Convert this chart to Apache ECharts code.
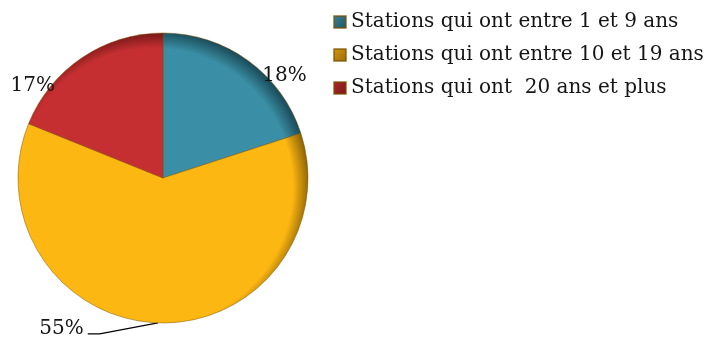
<!DOCTYPE html>
<html>
<head>
<meta charset="utf-8">
<script src="https://cdn.jsdelivr.net/npm/echarts@6/dist/echarts.min.js"></script>
<style>html,body{margin:0;padding:0;background:#fff}#c{width:705px;height:340px}</style>
</head>
<body>
<div id="c"></div>
<script>
// Age classes of the stations and their shares (%)
const categories = [
  'Stations qui ont entre 1 et 9 ans',
  'Stations qui ont entre 10 et 19 ans',
  'Stations qui ont  20 ans et plus'
];
const shares = [18, 55, 17];

const baseColors = ['#3a8fa6', '#fdb713', '#c52f31'];
const rimColors = ['#1c4e5c', '#8a6104', '#6e1515'];
const keyColors = [['#3c8194', '#1f5565'], ['#d49a12', '#9a6a06'], ['#b02a2a', '#7a1616']];

const CX = 163, CY = 178, R = 145;
const FONT = 'DejaVu Serif';

// rim shading: gradient centred slightly down-left so the upper/right rim is darker
function rimFill(i) {
  return {
    type: 'radial', x: CX - 9, y: CY + 9, r: R + 11, global: true,
    colorStops: [
      { offset: 0, color: baseColors[i] },
      { offset: 0.89, color: baseColors[i] },
      { offset: 1, color: rimColors[i] }
    ]
  };
}

const labelShift = [
  { dx: 9, dy: 15 },
  { dx: -9, dy: 0 },
  { dx: -22, dy: 28 }
];

// leader line of the large slice: slanted first segment, short horizontal tail
function layoutLabel(p) {
  const s = Object.assign({}, labelShift[p.dataIndex]);
  const pts = p.labelLinePoints;
  if (p.dataIndex === 1 && pts && pts.length === 3) {
    const end = pts[2];
    s.labelLinePoints = [pts[0], [end[0] + 2, end[1] + 5], [end[0] - 10, end[1] + 5]];
  }
  return s;
}

const chart = echarts.init(document.getElementById('c'), null, { renderer: 'canvas' });
chart.setOption({
  animation: false,
  legend: {
    orient: 'vertical',
    left: 333, top: 12, padding: 0,
    itemWidth: 12, itemHeight: 12, itemGap: 13,
    icon: 'rect',
    textStyle: { fontFamily: FONT, fontSize: 20, color: '#151515' },
    data: categories.map((name, i) => ({
      name,
      itemStyle: {
        color: { type: 'linear', x: 0, y: 0, x2: 1, y2: 1,
          colorStops: [{ offset: 0, color: keyColors[i][0] }, { offset: 1, color: keyColors[i][1] }] }
      }
    }))
  },
  series: [{
    type: 'pie',
    center: [CX, CY],
    radius: R,
    startAngle: 90,
    clockwise: true,
    avoidLabelOverlap: false,
    data: categories.map((name, i) => ({
      name,
      value: shares[i],
      itemStyle: { color: rimFill(i), borderColor: 'rgba(120,80,0,0.6)', borderWidth: 0.8 },
      label: i === 1 ? {} : { position: 'outside' },
      labelLine: i === 1 ? { show: true, length: 6, length2: 60 } : { show: false, length: 0, length2: 0 }
    })),
    label: {
      formatter: p => p.value + '%',
      fontFamily: FONT, fontSize: 20, color: '#151515'
    },
    labelLine: { lineStyle: { color: '#000', width: 1.3 } },
    labelLayout: layoutLabel,
    emphasis: { disabled: true }
  }]
});
</script>
</body>
</html>
